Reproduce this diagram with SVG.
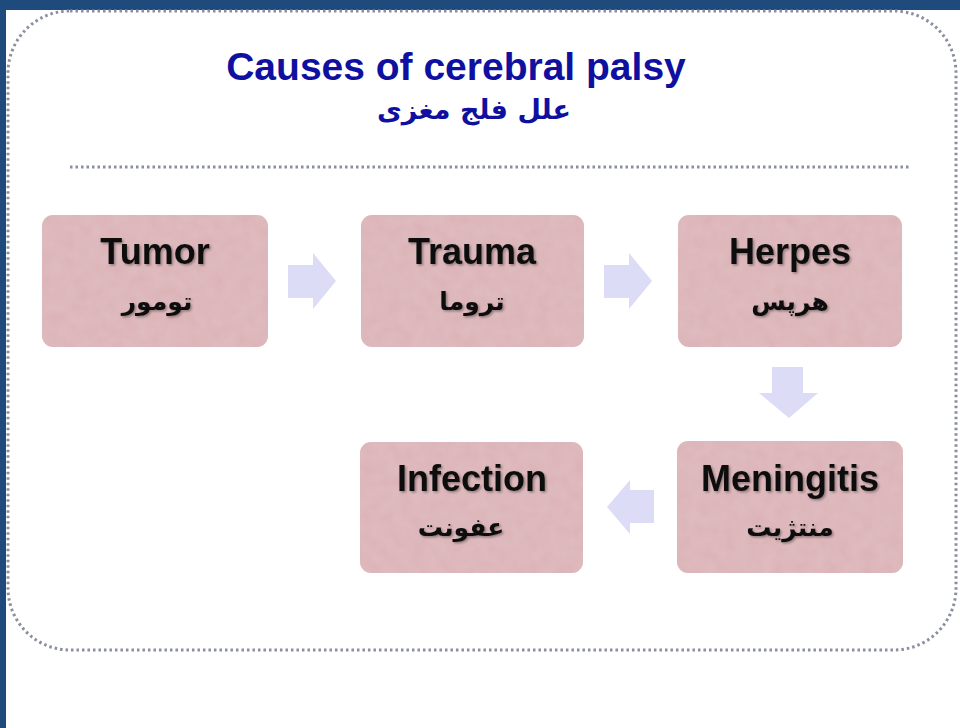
<svg xmlns="http://www.w3.org/2000/svg" width="960" height="728" viewBox="0 0 960 728">
  <defs>
    <filter id="sh" x="-10%" y="-20%" width="120%" height="140%">
      <feDropShadow dx="1.5" dy="1.5" stdDeviation="1" flood-color="#000" flood-opacity="0.35"/>
    </filter>
    <filter id="tex" x="0" y="0" width="100%" height="100%">
      <feTurbulence type="fractalNoise" baseFrequency="0.08" numOctaves="2" seed="3" result="n"/>
      <feColorMatrix in="n" type="matrix" values="0 0 0 0 0.80  0 0 0 0 0.62  0 0 0 0 0.65  0 0 0 0.35 0" result="c"/>
      <feComposite in="c" in2="SourceGraphic" operator="in" result="m"/>
      <feMerge><feMergeNode in="SourceGraphic"/><feMergeNode in="m"/></feMerge>
    </filter>
  </defs>
  <style>
    .frame { fill: none; stroke: #8A8FA0; stroke-width: 3; stroke-dasharray: 2.5 3; }
    .sep { fill: none; stroke: #8A8FA0; stroke-width: 3; stroke-dasharray: 2.5 3; }
    .title { font-family: "Liberation Sans", Arial, sans-serif; font-weight: bold; font-size: 39px; fill: #1010A0; text-anchor: middle; }
    .titlefa { font-family: "DejaVu Sans", "Noto Sans", sans-serif; font-weight: bold; font-size: 27px; fill: #1010A0; text-anchor: middle; }
    .box { fill: #DBB2B6; }
    .en { font-family: "Liberation Sans", Arial, sans-serif; font-weight: bold; font-size: 36px; fill: #111; text-anchor: middle; }
    .fa { font-family: "DejaVu Sans", "Noto Sans", sans-serif; font-weight: bold; font-size: 25px; fill: #111; text-anchor: middle; }
    .arrow { fill: #DCDCF7; }
  </style>
  <rect x="0" y="0" width="960" height="728" fill="#FFFFFF"/>
  <rect x="0" y="0" width="960" height="10" fill="#1F4A7C"/>
  <rect x="0" y="0" width="6" height="728" fill="#1F4A7C"/>
  <rect class="frame" x="8" y="11" width="948" height="639" rx="62" ry="62"/>
  <line class="sep" x1="70" y1="167" x2="910" y2="167"/>
  <text class="title" x="456" y="80">Causes of cerebral palsy</text>
  <text class="titlefa" x="474" y="119" direction="rtl">علل فلج مغزی</text>

  <g id="connectors">
    <polygon class="arrow" points="288,265 313,265 313,253 336,281 313,309 313,298 288,298"/>
    <polygon class="arrow" points="604,265 629,265 629,253 652,281 629,309 629,298 604,298"/>
    <polygon class="arrow" points="772,367 803,367 803,393 818,393 789,418 759,393 772,393"/>
    <polygon class="arrow" points="654,490 630,490 630,480 607,507 630,534 630,523 654,523"/>
  </g>

  <g id="tumor">
    <rect class="box" x="42" y="215" width="226" height="132" rx="11" filter="url(#tex)"/>
    <text class="en" x="155" y="264" filter="url(#sh)">Tumor</text>
    <text class="fa" x="157" y="310" direction="rtl" filter="url(#sh)">تومور</text>
  </g>
  <g id="trauma">
    <rect class="box" x="361" y="215" width="223" height="132" rx="11" filter="url(#tex)"/>
    <text class="en" x="472" y="264" filter="url(#sh)">Trauma</text>
    <text class="fa" x="472" y="310" direction="rtl" filter="url(#sh)">تروما</text>
  </g>
  <g id="herpes">
    <rect class="box" x="678" y="215" width="224" height="132" rx="11" filter="url(#tex)"/>
    <text class="en" x="790" y="264" filter="url(#sh)">Herpes</text>
    <text class="fa" x="790" y="310" direction="rtl" filter="url(#sh)">هرپس</text>
  </g>
  <g id="meningitis">
    <rect class="box" x="677" y="441" width="226" height="132" rx="11" filter="url(#tex)"/>
    <text class="en" x="790" y="491" filter="url(#sh)">Meningitis</text>
    <text class="fa" x="790" y="536" direction="rtl" filter="url(#sh)">منتژیت</text>
  </g>
  <g id="infection">
    <rect class="box" x="360" y="442" width="223" height="131" rx="11" filter="url(#tex)"/>
    <text class="en" x="472" y="491" filter="url(#sh)">Infection</text>
    <text class="fa" x="461" y="536" direction="rtl" filter="url(#sh)">عفونت</text>
  </g>
</svg>
